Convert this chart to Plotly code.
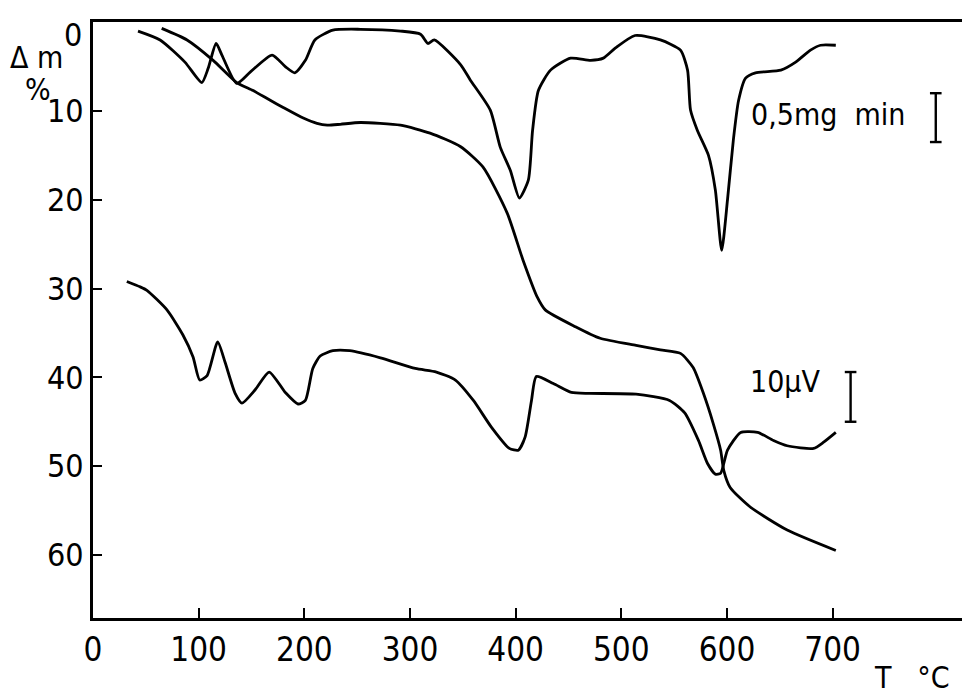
import plotly.graph_objects as go

# ---- data (T in °C, values on the Δm % scale) ----
dtg_T = [42.6, 63.5, 87, 103, 109, 116.5, 122, 136, 149, 169.5, 182, 191, 201, 210, 227, 253, 291, 310,
         317, 323, 348, 357, 376, 385.5, 395, 403.5, 412, 416, 421.5, 433, 452, 471, 483, 494.5, 513,
         537, 556, 562.7, 565.5, 572, 582.5, 589, 595, 600.5, 606, 611, 617.6, 627, 651, 665, 679, 688.6, 703]
dtg_v = [1.0, 2.0, 4.5, 6.8, 5.2, 2.4, 3.7, 6.9, 5.6, 3.7, 5.0, 5.7, 4.3, 2.0, 0.9, 0.8, 1.0, 1.35,
         2.4, 2.0, 4.8, 6.5, 9.9, 14.1, 16.7, 19.8, 17.8, 12.2, 7.7, 5.4, 4.05, 4.3, 4.05, 2.9, 1.5,
         2.0, 3.15, 5.4, 9.9, 12.2, 15.0, 18.9, 25.7, 20.0, 13.3, 8.8, 6.3, 5.7, 5.4, 4.5, 3.15, 2.6, 2.6]

tg_T = [65, 89, 113.7, 136, 151.6, 167.7, 180, 199, 212, 221.7, 234, 253, 291, 319, 347.6, 369, 392,
        407, 420.6, 428, 456.6, 480, 514, 537, 556, 568, 577.7, 587, 594, 597, 603, 622, 657, 703]
tg_v = [0.7, 2.0, 4.3, 6.8, 7.7, 8.8, 9.6, 10.8, 11.4, 11.6, 11.5, 11.3, 11.6, 12.5, 14.0, 16.3, 21.5,
        26.8, 31.0, 32.4, 34.3, 35.6, 36.4, 36.9, 37.3, 38.9, 41.8, 45.2, 48.2, 50.5, 52.4, 54.6, 57.2, 59.5]

dta_T = [32, 44.5, 51, 70, 85, 94.7, 101, 108, 118, 125, 134.5, 141, 153.5, 166.7, 182, 194, 201, 208,
         215, 227, 243, 272, 305, 325, 343, 360, 377, 394, 402.6, 409, 415, 419.6, 435.7, 452.8, 470,
         514, 545.6, 560, 573, 581.6, 589, 594, 600.5, 613, 629, 644, 657, 682, 691.5, 703]
dta_v = [29.2, 29.8, 30.2, 32.4, 35.2, 37.7, 40.3, 39.8, 36.0, 38.3, 41.8, 42.9, 41.4, 39.4, 41.7, 43.0,
         42.6, 39.0, 37.6, 37.0, 37.0, 37.8, 39.0, 39.4, 40.3, 42.6, 45.6, 48.0, 48.2, 46.7, 42.6, 39.9,
         40.7, 41.7, 41.8, 41.9, 42.6, 44.0, 47.1, 49.7, 50.9, 50.8, 48.2, 46.2, 46.2, 47.1, 47.7, 48.0,
         47.3, 46.2]

x_ticks = [0, 100, 200, 300, 400, 500, 600, 700]
y_ticks = [0, 10, 20, 30, 40, 50, 60]

# scale bars: (T position, top, bottom) and their labels
scale_bars = [(797.6, 8.0, 13.5), (717.0, 39.4, 45.0)]
scale_labels = ["0,5mg  min", "10\u00b5V"]
scale_label_pos = [(696.0, 10.4), (655.0, 40.5)]

FONT = "DejaVu Sans Condensed, Liberation Sans Narrow, Liberation Sans, sans-serif"
LINE = dict(color="black", width=2.8)

fig = go.Figure()
for name, xs, ys in [("DTG", dtg_T, dtg_v), ("TG", tg_T, tg_v), ("DTA", dta_T, dta_v)]:
    fig.add_trace(go.Scatter(x=xs, y=ys, mode="lines", name=name,
                             line=dict(**LINE, shape="spline", smoothing=0.6),
                             showlegend=False, hoverinfo="skip"))

# scale bars
for (bx, top, bot) in scale_bars:
    fig.add_trace(go.Scatter(x=[bx, bx], y=[top, bot], mode="lines", line=dict(color="black", width=2.4),
                             showlegend=False, hoverinfo="skip"))
    for yy in (top, bot):
        fig.add_trace(go.Scatter(x=[bx - 5.5, bx + 5.5], y=[yy, yy], mode="lines",
                                 line=dict(color="black", width=2.4), showlegend=False, hoverinfo="skip"))

for txt, (lx, ly) in zip(scale_labels, scale_label_pos):
    fig.add_annotation(x=lx, y=ly, xref="x", yref="y", text=txt, showarrow=False,
                       xanchor="center", yanchor="middle",
                       font=dict(family=FONT, size=30, color="black"))

fig.add_annotation(x=-0.064, y=0.940, xref="paper", yref="paper", text="\u0394 m", showarrow=False,
                   xanchor="center", yanchor="middle", font=dict(family=FONT, size=30, color="black"))
fig.add_annotation(x=-0.063, y=0.886, xref="paper", yref="paper", text="%", showarrow=False,
                   xanchor="center", yanchor="middle", font=dict(family=FONT, size=30, color="black"))
fig.add_annotation(x=0.934, y=-0.099, xref="paper", yref="paper", text="T   \u00b0C", showarrow=False,
                   xanchor="center", yanchor="middle", font=dict(family=FONT, size=30, color="black"))

# the top y label sits just below its tick in the original (it would otherwise run off the page)
fig.add_annotation(x=0, y=y_ticks[0], xref="paper", yref="y", text=str(y_ticks[0]), showarrow=False,
                   xanchor="right", yanchor="top", xshift=-9, yshift=8,
                   font=dict(family=FONT, size=32, color="black"))

fig.update_xaxes(range=[0, 830], tickvals=x_ticks, ticktext=[str(v) for v in x_ticks],
                 showgrid=False, zeroline=False, showline=True, linecolor="black", linewidth=3,
                 mirror=True, ticks="inside", ticklen=10, tickwidth=2, tickcolor="black", automargin=False,
                 ticklabeloverflow="allow",
                 tickfont=dict(family=FONT, size=33, color="black"))
fig.update_yaxes(range=[67.1, -0.02], tickvals=y_ticks,
                 ticktext=["" if v == y_ticks[0] else str(v) for v in y_ticks],
                 showgrid=False, zeroline=False, showline=True, linecolor="black", linewidth=3,
                 ticks="inside", ticklen=9, tickwidth=2, tickcolor="black", automargin=False,
                 ticklabeloverflow="allow",
                 tickfont=dict(family=FONT, size=32, color="black"))

# the page body has an 8 px default margin, so the figure is sized/offset to compensate
fig.update_layout(width=962, height=687, margin=dict(l=85, r=0, t=14, b=77),
                  paper_bgcolor="white", plot_bgcolor="white")

fig.write_html("out.html")
